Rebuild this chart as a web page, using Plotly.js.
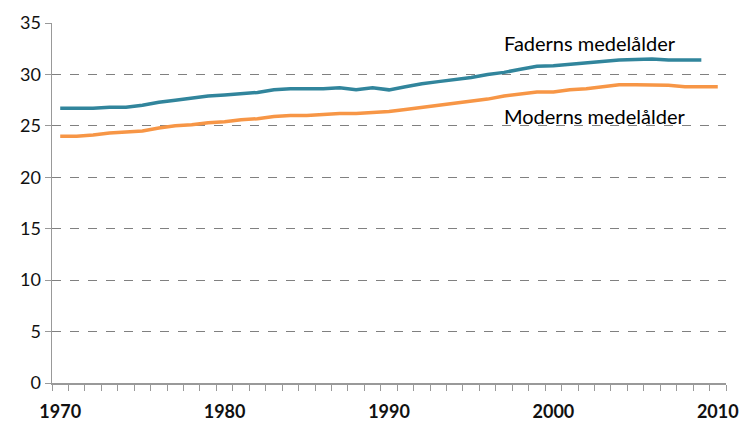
<!DOCTYPE html>
<html>
<head>
<meta charset="utf-8">
<script src="https://cdn.plot.ly/plotly-3.0.1.min.js"></script>
<style>html,body{margin:0;padding:0;background:#fff;}#chart{width:743px;height:425px;}</style>
</head>
<body>
<div id="chart"></div>
<script>
const yearsFather = [1970,1971,1972,1973,1974,1975,1976,1977,1978,1979,1980,1981,1982,1983,1984,1985,1986,1987,1988,1989,1990,1991,1992,1993,1994,1995,1996,1997,1998,1999,2000,2001,2002,2003,2004,2005,2006,2007,2008,2009];
const fatherAge = [26.7,26.7,26.7,26.8,26.8,27.0,27.3,27.5,27.7,27.9,28.0,28.1,28.25,28.5,28.6,28.6,28.6,28.7,28.5,28.7,28.5,28.8,29.1,29.3,29.5,29.7,30.0,30.2,30.5,30.8,30.85,31.0,31.1,31.3,31.4,31.45,31.5,31.4,31.4,31.4];
const yearsMother = [1970,1971,1972,1973,1974,1975,1976,1977,1978,1979,1980,1981,1982,1983,1984,1985,1986,1987,1988,1989,1990,1991,1992,1993,1994,1995,1996,1997,1998,1999,2000,2001,2002,2003,2004,2005,2006,2007,2008,2009,2010];
const motherAge = [24.0,24.0,24.1,24.3,24.4,24.5,24.8,25.0,25.1,25.3,25.4,25.6,25.7,25.9,26.0,26.0,26.1,26.2,26.2,26.3,26.4,26.6,26.8,27.0,27.2,27.4,27.6,27.9,28.1,28.3,28.3,28.5,28.6,28.8,29.0,29.0,29.0,28.95,28.8,28.8,28.8];
const xTickVals = [1970,1980,1990,2000,2010];
const yTickVals = [0,5,10,15,20,25,30,35];
const labelFather = "Faderns medelålder";
const labelMother = "Moderns medelålder";

const traces = [
  {x: yearsFather, y: fatherAge, type: 'scatter', mode: 'lines', name: labelFather,
   line: {color: '#31859C', width: 3.5}},
  {x: yearsMother, y: motherAge, type: 'scatter', mode: 'lines', name: labelMother,
   line: {color: '#F79646', width: 3.5}}
];

const layout = {
  width: 743, height: 425,
  margin: {l: 52, r: 17, t: 23, b: 42},
  paper_bgcolor: '#fff', plot_bgcolor: '#fff',
  showlegend: false,
  font: {family: 'Lato, "Open Sans", sans-serif', color: '#000'},
  xaxis: {
    range: [1969.5, 2010.5],
    tickvals: xTickVals,
    ticktext: xTickVals.map(String),
    ticks: '', showgrid: false, zeroline: false,
    showline: true, linecolor: '#999', linewidth: 1.5,
    tickfont: {size: 18, family: 'Lato, sans-serif', color: '#111', weight: 'bold'},
    ticklabelstandoff: 12,
    minor: {tick0: 1969.5, dtick: 1, ticks: 'outside', ticklen: 6, tickcolor: '#999', tickwidth: 1, showgrid: false}
  },
  yaxis: {
    range: [0, 35],
    tickvals: yTickVals,
    ticks: 'outside', ticklen: 6, tickcolor: '#999', tickwidth: 1,
    showline: true, linecolor: '#999', linewidth: 1.5,
    showgrid: true, gridcolor: '#808080', griddash: 'dash', gridwidth: 1,
    zeroline: false,
    tickfont: {size: 18, family: 'Lato, sans-serif', color: '#111'}
  },
  annotations: [
    {x: 1996.86, y: 33.1, xref: 'x', yref: 'y', text: labelFather, showarrow: false,
     xanchor: 'left', yanchor: 'middle', font: {size: 20, family: 'Lato, sans-serif', color: '#000'}},
    {x: 1996.86, y: 26.0, xref: 'x', yref: 'y', text: labelMother, showarrow: false,
     xanchor: 'left', yanchor: 'middle', font: {size: 20, family: 'Lato, sans-serif', color: '#000'}}
  ]
};

Plotly.newPlot('chart', traces, layout, {staticPlot: true, displayModeBar: false});
</script>
</body>
</html>
